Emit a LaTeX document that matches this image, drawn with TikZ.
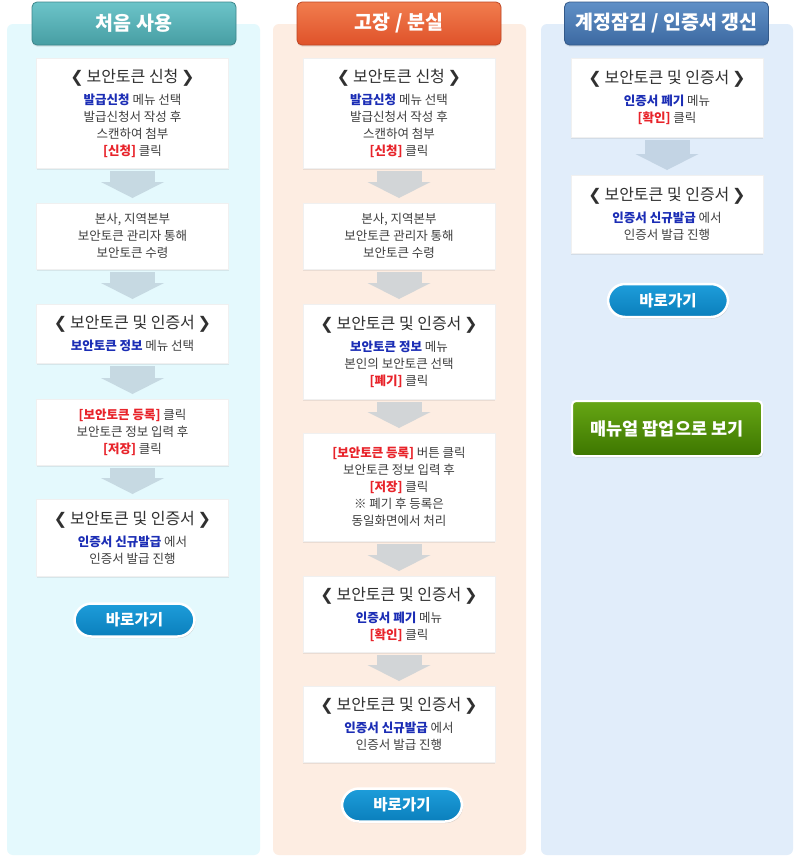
\documentclass[tikz,border=0pt]{standalone}
\usepackage{fontspec}
\setmainfont{Noto Sans CJK KR}
\newfontfamily\symf{DejaVu Sans}
\usetikzlibrary{arrows.meta,shadows}
\definecolor{txtgray}{HTML}{3E3E3E}
\definecolor{ttlgray}{HTML}{303030}
\definecolor{hlblue}{HTML}{1B2DB5}
\definecolor{hlred}{HTML}{E8232A}
\definecolor{panelA}{HTML}{E4F9FD}
\definecolor{panelB}{HTML}{FDEDE2}
\definecolor{panelC}{HTML}{E1EDFA}
\definecolor{tabAtop}{HTML}{6CC4C9}
\definecolor{tabAbot}{HTML}{479EA3}
\definecolor{tabBtop}{HTML}{F17D4E}
\definecolor{tabBbot}{HTML}{DF522A}
\definecolor{tabCtop}{HTML}{6090C7}
\definecolor{tabCbot}{HTML}{3C69A1}
\definecolor{arrA}{HTML}{C6D9E2}
\definecolor{arrB}{HTML}{D2D5D7}
\definecolor{arrC}{HTML}{C3D4E4}
\definecolor{btntop}{HTML}{1E9DDA}
\definecolor{btnbot}{HTML}{0A7FBC}
\definecolor{grntop}{HTML}{66A614}
\definecolor{grnbot}{HTML}{3D7600}
\newcommand\bodytxt{\fontsize{12.5}{17}\selectfont}
\newcommand\boxtitle[1]{{\color{ttlgray}\fontsize{16}{17}\selectfont{\symf\bfseries ❮}\,#1\,{\symf\bfseries ❯}}}
\newcommand\hlb[1]{\textcolor{hlblue}{\bfseries #1}}
\newcommand\hlr[1]{\textcolor{hlred}{\bfseries[#1]}}
\begin{document}
\begin{tikzpicture}[x=1pt,y=-1pt,
    panel/.style={rounded corners=6pt},
    tab/.style={rounded corners=5pt, minimum width=204pt, minimum height=43pt, text=white,
      font=\fontsize{19.5}{19.5}\selectfont\bfseries, line width=0.8pt,
      drop shadow={opacity=0.2, shadow xshift=0pt, shadow yshift=-1.5pt}},
    stepbox/.style={fill=white, draw=black!6, anchor=north, minimum width=192pt, inner sep=0pt,
      align=center, text=txtgray, font=\bodytxt,
      drop shadow={opacity=0.15, shadow xshift=0pt, shadow yshift=-1.5pt}},
    flow/.style={draw=#1, line width=45pt, -{Triangle[width=63pt,length=16pt,line width=0pt]},
      shorten <=3pt, shorten >=5pt},
    gobtn/.style={rounded corners=17pt, draw=white, line width=2.5pt, top color=btntop,
      bottom color=btnbot, text=white, font=\fontsize{15.5}{15.5}\selectfont\bfseries,
      minimum width=120pt, minimum height=33pt,
      drop shadow={opacity=0.3, shadow xshift=1pt, shadow yshift=-1.5pt}},
    manbtn/.style={rounded corners=4pt, draw=white, line width=2pt, top color=grntop,
      bottom color=grnbot, text=white, font=\fontsize{17.5}{17.5}\selectfont\bfseries,
      minimum width=190pt, minimum height=55pt,
      drop shadow={opacity=0.3, shadow xshift=1pt, shadow yshift=-1.5pt}}]
  \useasboundingbox (0,0) rectangle (800,860);
  \fill[white] (0,0) rectangle (800,860);
  \fill[panel, panelA] (7,24) rectangle (260,855);
  \fill[panel, panelB] (273,24) rectangle (526,855);
  \fill[panel, panelC] (541,24) rectangle (793,855);
  \node[tab, draw=tabAbot!85!black, top color=tabAtop, bottom color=tabAbot] (tabA) at (134,23.5) {처음 사용};
  \node[tab, draw=tabBbot!85!black, top color=tabBtop, bottom color=tabBbot] (tabB) at (399,23.5) {고장 / 분실};
  \node[tab, draw=tabCbot!85!black, top color=tabCtop, bottom color=tabCbot] (tabC) at (666.5,23.5) {계정잠김 / 인증서 갱신};

  \node[stepbox, minimum height=110pt] (a1) at (132.5,58) {\boxtitle{보안토큰 신청}\\[5pt]
    \hlb{발급신청} 메뉴 선택\\ 발급신청서 작성 후\\ 스캔하여 첨부\\ \hlr{신청} 클릭};
  \node[stepbox, minimum height=66pt] (a2) at (132.5,203) {본사, 지역본부\\ 보안토큰 관리자 통해\\ 보안토큰 수령};
  \node[stepbox, minimum height=59pt] (a3) at (132.5,304) {\boxtitle{보안토큰 및 인증서}\\[5pt]
    \hlb{보안토큰 정보} 메뉴 선택};
  \node[stepbox, minimum height=66pt] (a4) at (132.5,399) {\hlr{보안토큰 등록} 클릭\\ 보안토큰 정보 입력 후\\ \hlr{저장} 클릭};
  \node[stepbox, minimum height=77pt] (a5) at (132.5,499) {\boxtitle{보안토큰 및 인증서}\\[5pt]
    \hlb{인증서 신규발급} 에서\\ 인증서 발급 진행};
  \node[gobtn] (a6) at (134.5,620) {바로가기};

  \node[stepbox, minimum height=110pt] (b1) at (399,58) {\boxtitle{보안토큰 신청}\\[5pt]
    \hlb{발급신청} 메뉴 선택\\ 발급신청서 작성 후\\ 스캔하여 첨부\\ \hlr{신청} 클릭};
  \node[stepbox, minimum height=66pt] (b2) at (399,203) {본사, 지역본부\\ 보안토큰 관리자 통해\\ 보안토큰 수령};
  \node[stepbox, minimum height=95pt] (b3) at (399,304) {\boxtitle{보안토큰 및 인증서}\\[5pt]
    \hlb{보안토큰 정보} 메뉴\\ 본인의 보안토큰 선택\\ \hlr{폐기} 클릭};
  \node[stepbox, minimum height=108pt] (b4) at (399,433) {\hlr{보안토큰 등록} 버튼 클릭\\ 보안토큰 정보 입력 후\\
    \hlr{저장} 클릭\\ ※ 폐기 후 등록은\\ 동일화면에서 처리};
  \node[stepbox, minimum height=76pt] (b5) at (399,576) {\boxtitle{보안토큰 및 인증서}\\[5pt]
    \hlb{인증서 폐기} 메뉴\\ \hlr{확인} 클릭};
  \node[stepbox, minimum height=76pt] (b6) at (399,686) {\boxtitle{보안토큰 및 인증서}\\[5pt]
    \hlb{인증서 신규발급} 에서\\ 인증서 발급 진행};
  \node[gobtn] (b7) at (402,805) {바로가기};

  \node[stepbox, minimum height=79pt] (c1) at (667,58) {\boxtitle{보안토큰 및 인증서}\\[5pt]
    \hlb{인증서 폐기} 메뉴\\ \hlr{확인} 클릭};
  \node[stepbox, minimum height=78pt] (c2) at (667,175) {\boxtitle{보안토큰 및 인증서}\\[5pt]
    \hlb{인증서 신규발급} 에서\\ 인증서 발급 진행};
  \node[gobtn] (c3) at (668,300.5) {바로가기};
  \node[manbtn] (c4) at (667,428.5) {매뉴얼 팝업으로 보기};

  \draw[flow=arrA] (a1) -- (a2);
  \draw[flow=arrA] (a2) -- (a3);
  \draw[flow=arrA] (a3) -- (a4);
  \draw[flow=arrA] (a4) -- (a5);
  \draw[flow=arrB] (b1) -- (b2);
  \draw[flow=arrB] (b2) -- (b3);
  \draw[flow=arrB] (b3) -- (b4);
  \draw[flow=arrB] (b4) -- (b5);
  \draw[flow=arrB] (b5) -- (b6);
  \draw[flow=arrC] (c1) -- (c2);
\end{tikzpicture}
\end{document}
